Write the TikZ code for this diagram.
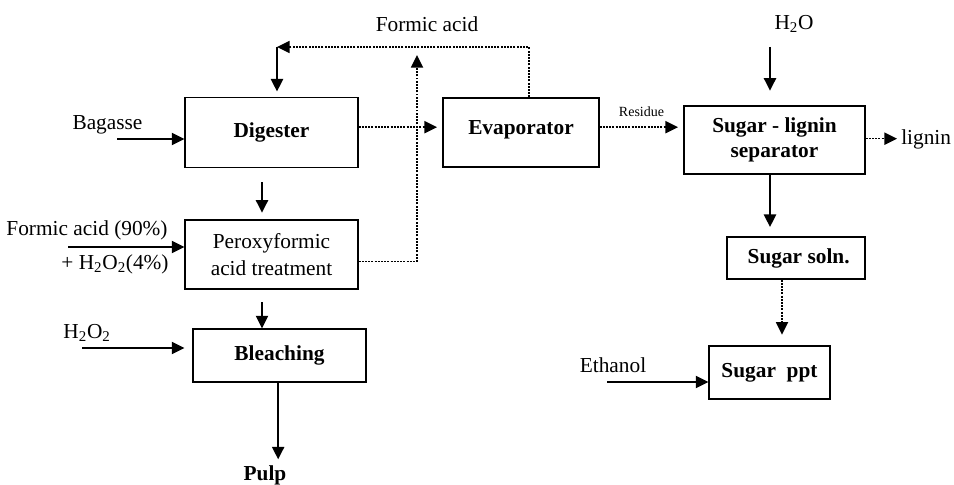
\documentclass[tikz,border=0pt]{standalone}
\usepackage{fontspec}
\setmainfont{Liberation Serif}
\usetikzlibrary{arrows.meta,positioning}
\tikzset{
  unit/.style={draw, line width=1pt, inner sep=0pt, align=center,
               font=\fontsize{16}{19}\selectfont\bfseries},
  stream/.style={font=\fontsize{16}{19}\selectfont},
  flow/.style={-{Triangle[length=3.3mm,width=3.2mm]}, line width=1.4pt},
  dotflow/.style={flow, densely dotted, line width=1pt}
}

\begin{document}
\begin{tikzpicture}[x=0.75pt, y=-0.75pt]
  \useasboundingbox (0,0) rectangle (954,485);

  % process units
  \node[unit, minimum width=129.75pt, minimum height=52.5pt] (dig) at (271.5,132.5) {Digester};
  \node[unit, minimum width=117pt, minimum height=51.75pt] (evap) at (521,132.5) {\raisebox{7pt}{Evaporator}};
  \node[unit, minimum width=135.75pt, minimum height=51pt] (sep) at (774.5,140) {Sugar - lignin\\separator};
  \node[unit, font=\fontsize{16}{20}\selectfont, minimum width=129.75pt, minimum height=51.75pt] (perox) at (271.5,254.5) {Peroxyformic\\acid treatment};
  \node[unit, minimum width=129.75pt, minimum height=39.75pt] (bleach) at (279.5,355.5) {Bleaching};
  \node[unit, minimum width=103.5pt, minimum height=31.5pt] (soln) at (796,258) {\hspace{4pt}Sugar soln.};
  \node[unit, minimum width=90.75pt, minimum height=39.75pt] (ppt) at (769.5,372.5) {Sugar\ \ ppt};

  % stream labels
  \node[stream] (bagasse) at (107.5,125) {Bagasse};
  \node[stream] (recfa) at (427,24) {Formic acid};
  \node[stream] (water) at (794,24) {H\textsubscript{2}O};
  \node[stream, anchor=west, inner sep=0pt] (lignin) at (901,139) {lignin};
  \node[stream] (faconc) at (87,230) {Formic acid (90\%)};
  \node[stream] (fahp) at (115,264) {+ H\textsubscript{2}O\textsubscript{2}(4\%)};
  \node[stream] (hp) at (87,333) {H\textsubscript{2}O\textsubscript{2}};
  \node[stream] (ethanol) at (613,365) {Ethanol};
  \node[unit, draw=none] (pulp) at (265,475) {Pulp};

  % free ends
  \coordinate (bagin) at (117,139);
  \coordinate (recyc) at (529,47);
  \coordinate (reccorner) at (277,47);
  \coordinate (upend) at (417,55);
  \coordinate (waterin) at (770,47);
  \coordinate (d2p) at (262,182);
  \coordinate (p2b) at (262,302);
  \coordinate (fain) at (68,247);
  \coordinate (hpin) at (82,348);
  \coordinate (ethin) at (607,382);

  % main line
  \draw[flow] (bagin) -- (bagin -| dig.west);
  \draw[flow, shorten >=5pt] (d2p) -- (d2p |- perox.north);
  \draw[flow] (fain) -- (fain -| perox.west);
  \draw[flow] (p2b) -- (p2b |- bleach.north);
  \draw[flow, shorten >=6pt] (hpin) -- (hpin -| bleach.west);
  \draw[flow] ([xshift=-1pt]bleach.south) -- ([xshift=-1pt,yshift=4pt]bleach.south |- pulp.north);

  % acid recovery
  \draw[dotflow, shorten >=4pt] ([yshift=4pt]dig.east) -- ([yshift=4pt]evap.west);
  \draw[dotflow] (recyc |- evap.north) -- (recyc) -- (reccorner);
  \draw[flow, shorten >=4pt] (reccorner) -- (reccorner |- dig.north);
  \draw[dotflow] ([yshift=-5pt]perox.east) -| (upend);
  \draw[dotflow, shorten >=4pt] ([yshift=4pt]evap.east) -- ([yshift=4pt]evap.east -| sep.west)
    node[midway, above=4pt, font=\fontsize{10.5}{12}\selectfont] {Residue};

  % sugar recovery
  \draw[flow, shorten >=11pt] (waterin) -- (waterin |- sep.north);
  \draw[dotflow, shorten >=3pt] ([yshift=1pt]sep.east) -- ([yshift=1pt]sep.east -| lignin.west);
  \draw[flow, shorten >=7pt] (waterin |- sep.south) -- (waterin |- soln.north);
  \draw[dotflow, shorten >=8pt] ([xshift=-10.5pt]soln.south) -- ([xshift=-10.5pt]soln.south |- ppt.north);
  \draw[flow] (ethin) -- (ethin -| ppt.west);
\end{tikzpicture}
\end{document}
